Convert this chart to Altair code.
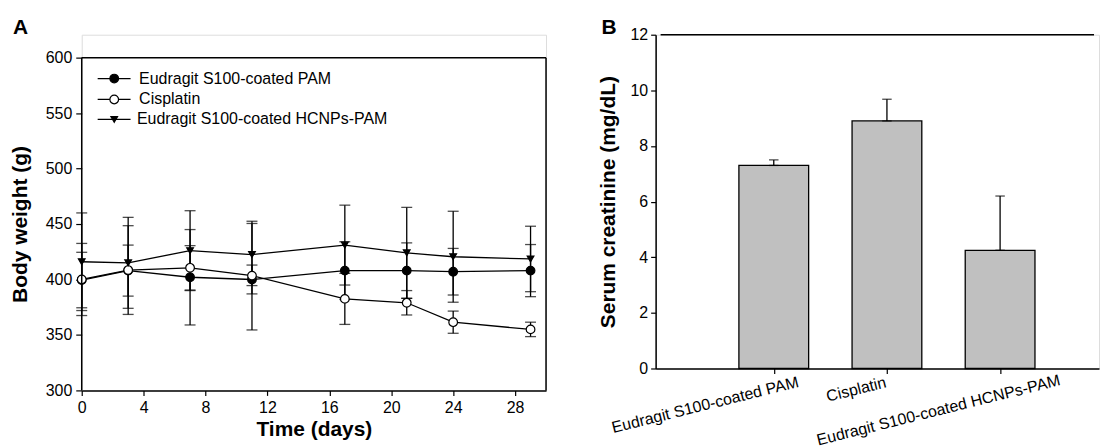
import math
import altair as alt
import pandas as pd

# ---------------- data ----------------
days = [0, 3, 7, 11, 17, 21, 24, 29]
series_names = ["Eudragit S100-coated PAM", "Cisplatin", "Eudragit S100-coated HCNPs-PAM"]
pam_mean = [399.5, 408, 402, 400, 408, 408, 407, 408]
pam_sd = [25, 23, 43, 13, 26, 25, 21, 23.5]
cis_mean = [400, 408.5, 410.5, 403.5, 382.5, 379, 361.5, 355]
cis_sd = [32.5, 40, 20, 49, 23, 11, 10, 6.5]
hcnp_mean = [416, 415, 426, 422.5, 431, 424, 420.5, 418.5]
hcnp_sd = [44, 41, 36, 28, 36, 41, 41, 29.5]

x_ticks_a = [0, 4, 8, 12, 16, 20, 24, 28]
y_ticks_a = [300, 350, 400, 450, 500, 550, 600]

groups = ["Eudragit S100-coated PAM", "Cisplatin", "Eudragit S100-coated HCNPs-PAM"]
group_pos = [1, 2, 3]
creatinine = [7.3, 8.9, 4.25]
creatinine_err = [0.2, 0.78, 1.95]
y_ticks_b = [0, 2, 4, 6, 8, 10, 12]

FONT = "Liberation Sans"

rows = []
for name, means, sds in zip(series_names, [pam_mean, cis_mean, hcnp_mean], [pam_sd, cis_sd, hcnp_sd]):
    for d, m, s in zip(days, means, sds):
        rows.append({"series": name, "day": d, "weight": m, "sd": s})
df = pd.DataFrame(rows)

# ---------------- panel A ----------------
xsc = alt.Scale(domain=[0, 30], nice=False, zero=False)
ysc = alt.Scale(domain=[300, 600], range=[357, 23], nice=False, zero=False)

ax_common = dict(grid=False, domainColor="black", tickColor="black", domainWidth=1.5,
                 tickWidth=1.2, labelColor="black", titleColor="black", labelFontSize=16,
                 titleFontSize=21, titleFontWeight="bold", labelFont=FONT, titleFont=FONT,
                 labelFlush=False, labelOverlap=False)

X = alt.X("day:Q", scale=xsc,
          axis=alt.Axis(values=x_ticks_a, title="Time (days)", tickSize=5, labelPadding=4,
                        titlePadding=3, **ax_common))
Y = alt.Y("weight:Q", scale=ysc,
          axis=alt.Axis(values=y_ticks_a, title="Body weight (g)", tickSize=6, labelPadding=4,
                        titlePadding=15, domain=False, **ax_common))

errs = alt.Chart(df).mark_errorbar(ticks=True, size=11, thickness=1.3, color="black").encode(
    x=X, y=Y, yError="sd:Q", detail="series:N")
lines = alt.Chart(df).mark_line(color="black", strokeWidth=1.3).encode(x=X, y=Y, detail="series:N")

styles = {
    series_names[0]: dict(shape="circle", fill="black", size=75),
    series_names[1]: dict(shape="circle", fill="white", size=75),
    series_names[2]: dict(shape="triangle-down", fill="black", size=45),
}
markers = []
for name in series_names:
    st = styles[name]
    markers.append(
        alt.Chart(df[df["series"] == name]).mark_point(
            shape=st["shape"], filled=True, fill=st["fill"], stroke="black", strokeWidth=1.2,
            size=st["size"], opacity=1).encode(x=X, y=Y))

one = pd.DataFrame({"k": [0]})
frame_top = alt.Chart(one).mark_rule(color="black", strokeWidth=1.5).encode(
    x=alt.datum(0), x2=alt.datum(30), y=alt.datum(600))
frame_right = alt.Chart(one).mark_rule(color="black", strokeWidth=1.5).encode(
    x=alt.datum(30), y=alt.datum(300), y2=alt.datum(600))
frame_left = alt.Chart(one).mark_rule(color="black", strokeWidth=1.5).encode(
    x=alt.datum(0), y=alt.datum(300), y2=alt.datum(600))

legend_layers = []
leg_y = [44, 65, 85]
leg_tx = [57.6, 57.6, 55.4]
for name, ly, tx in zip(series_names, leg_y, leg_tx):
    st = styles[name]
    legend_layers.append(alt.Chart(one).mark_rule(color="black", strokeWidth=1.3).encode(
        x=alt.value(16), x2=alt.value(49), y=alt.value(ly)))
    legend_layers.append(alt.Chart(one).mark_point(
        shape=st["shape"], filled=True, fill=st["fill"], stroke="black", strokeWidth=1.2,
        size=st["size"], opacity=1).encode(x=alt.value(32.6), y=alt.value(ly)))
    legend_layers.append(alt.Chart(one).mark_text(
        align="left", baseline="middle", fontSize=16, font=FONT, color="black").encode(
        x=alt.value(tx), y=alt.value(ly), text=alt.value(name)))

label_a = alt.Chart(one).mark_text(align="left", baseline="alphabetic", fontSize=21,
                                   fontWeight="bold", font=FONT, color="black").encode(
    x=alt.value(-69), y=alt.value(-0.5), text=alt.value("A"))

panel_a = alt.layer(errs, lines, *markers, frame_top, frame_right, frame_left, *legend_layers,
                    label_a).properties(width=466, height=357)

# ---------------- panel B ----------------
bdf = pd.DataFrame({"pos": group_pos, "group": groups, "value": creatinine,
                    "upper": [v + e for v, e in zip(creatinine, creatinine_err)]})
XMAX = 3.83
xsc_b = alt.Scale(domain=[0, XMAX], nice=False, zero=False)
Xb = alt.X("pos:Q", scale=xsc_b,
           axis=alt.Axis(values=group_pos, labels=False, title=None, tickSize=5, **ax_common))
Yb = alt.Y("value:Q", scale=alt.Scale(domain=[0, 12], nice=False),
           axis=alt.Axis(values=y_ticks_b, title="Serum creatinine (mg/dL)", tickSize=5,
                         labelPadding=3, titlePadding=11.6, **ax_common))

bars = alt.Chart(bdf).mark_bar(size=70, color="#c0c0c0", stroke="black", strokeWidth=1.3).encode(
    x=Xb, y=Yb)
berr = alt.Chart(bdf).mark_errorbar(ticks=True, size=9.5, thickness=1.3, color="black").encode(
    x=Xb, y=Yb, y2="upper:Q")
top_b = alt.Chart(one).mark_rule(color="black", strokeWidth=1.5).encode(
    x=alt.datum(0), x2=alt.datum(XMAX), y=alt.datum(12))

ANG = -14.0
th = math.radians(ANG)


def rot_offsets(Dx, Dy):
    dx = Dx * math.cos(th) + Dy * math.sin(th)
    dy = -Dx * math.sin(th) + Dy * math.cos(th)
    return dx, dy


screen_offsets = [(-68.8, 36.7), (-30.8, 21.2), (-61.8, 42.0)]
label_layers = []
for i, (Dx, Dy) in enumerate(screen_offsets):
    dx, dy = rot_offsets(Dx, Dy)
    label_layers.append(alt.Chart(bdf.iloc[[i]]).mark_text(
        angle=360 + ANG, align="center", baseline="middle", fontSize=16, font=FONT,
        color="black", dx=dx, dy=dy).encode(x=Xb, y=alt.datum(0), text="group:N"))

label_b = alt.Chart(one).mark_text(align="left", baseline="alphabetic", fontSize=21,
                                   fontWeight="bold", font=FONT, color="black").encode(
    x=alt.value(-54.4), y=alt.value(-0.3), text=alt.value("B"))

panel_b = alt.layer(bars, berr, top_b, *label_layers, label_b).properties(width=445, height=335)

chart = alt.hconcat(panel_a, panel_b, spacing=49).properties(
    padding={"left": 0, "top": 8, "right": 0, "bottom": 0}
).configure_view(strokeWidth=0, stroke="transparent").configure(font=FONT)

chart.save("out.html", embed_options={"renderer": "svg", "actions": False})
